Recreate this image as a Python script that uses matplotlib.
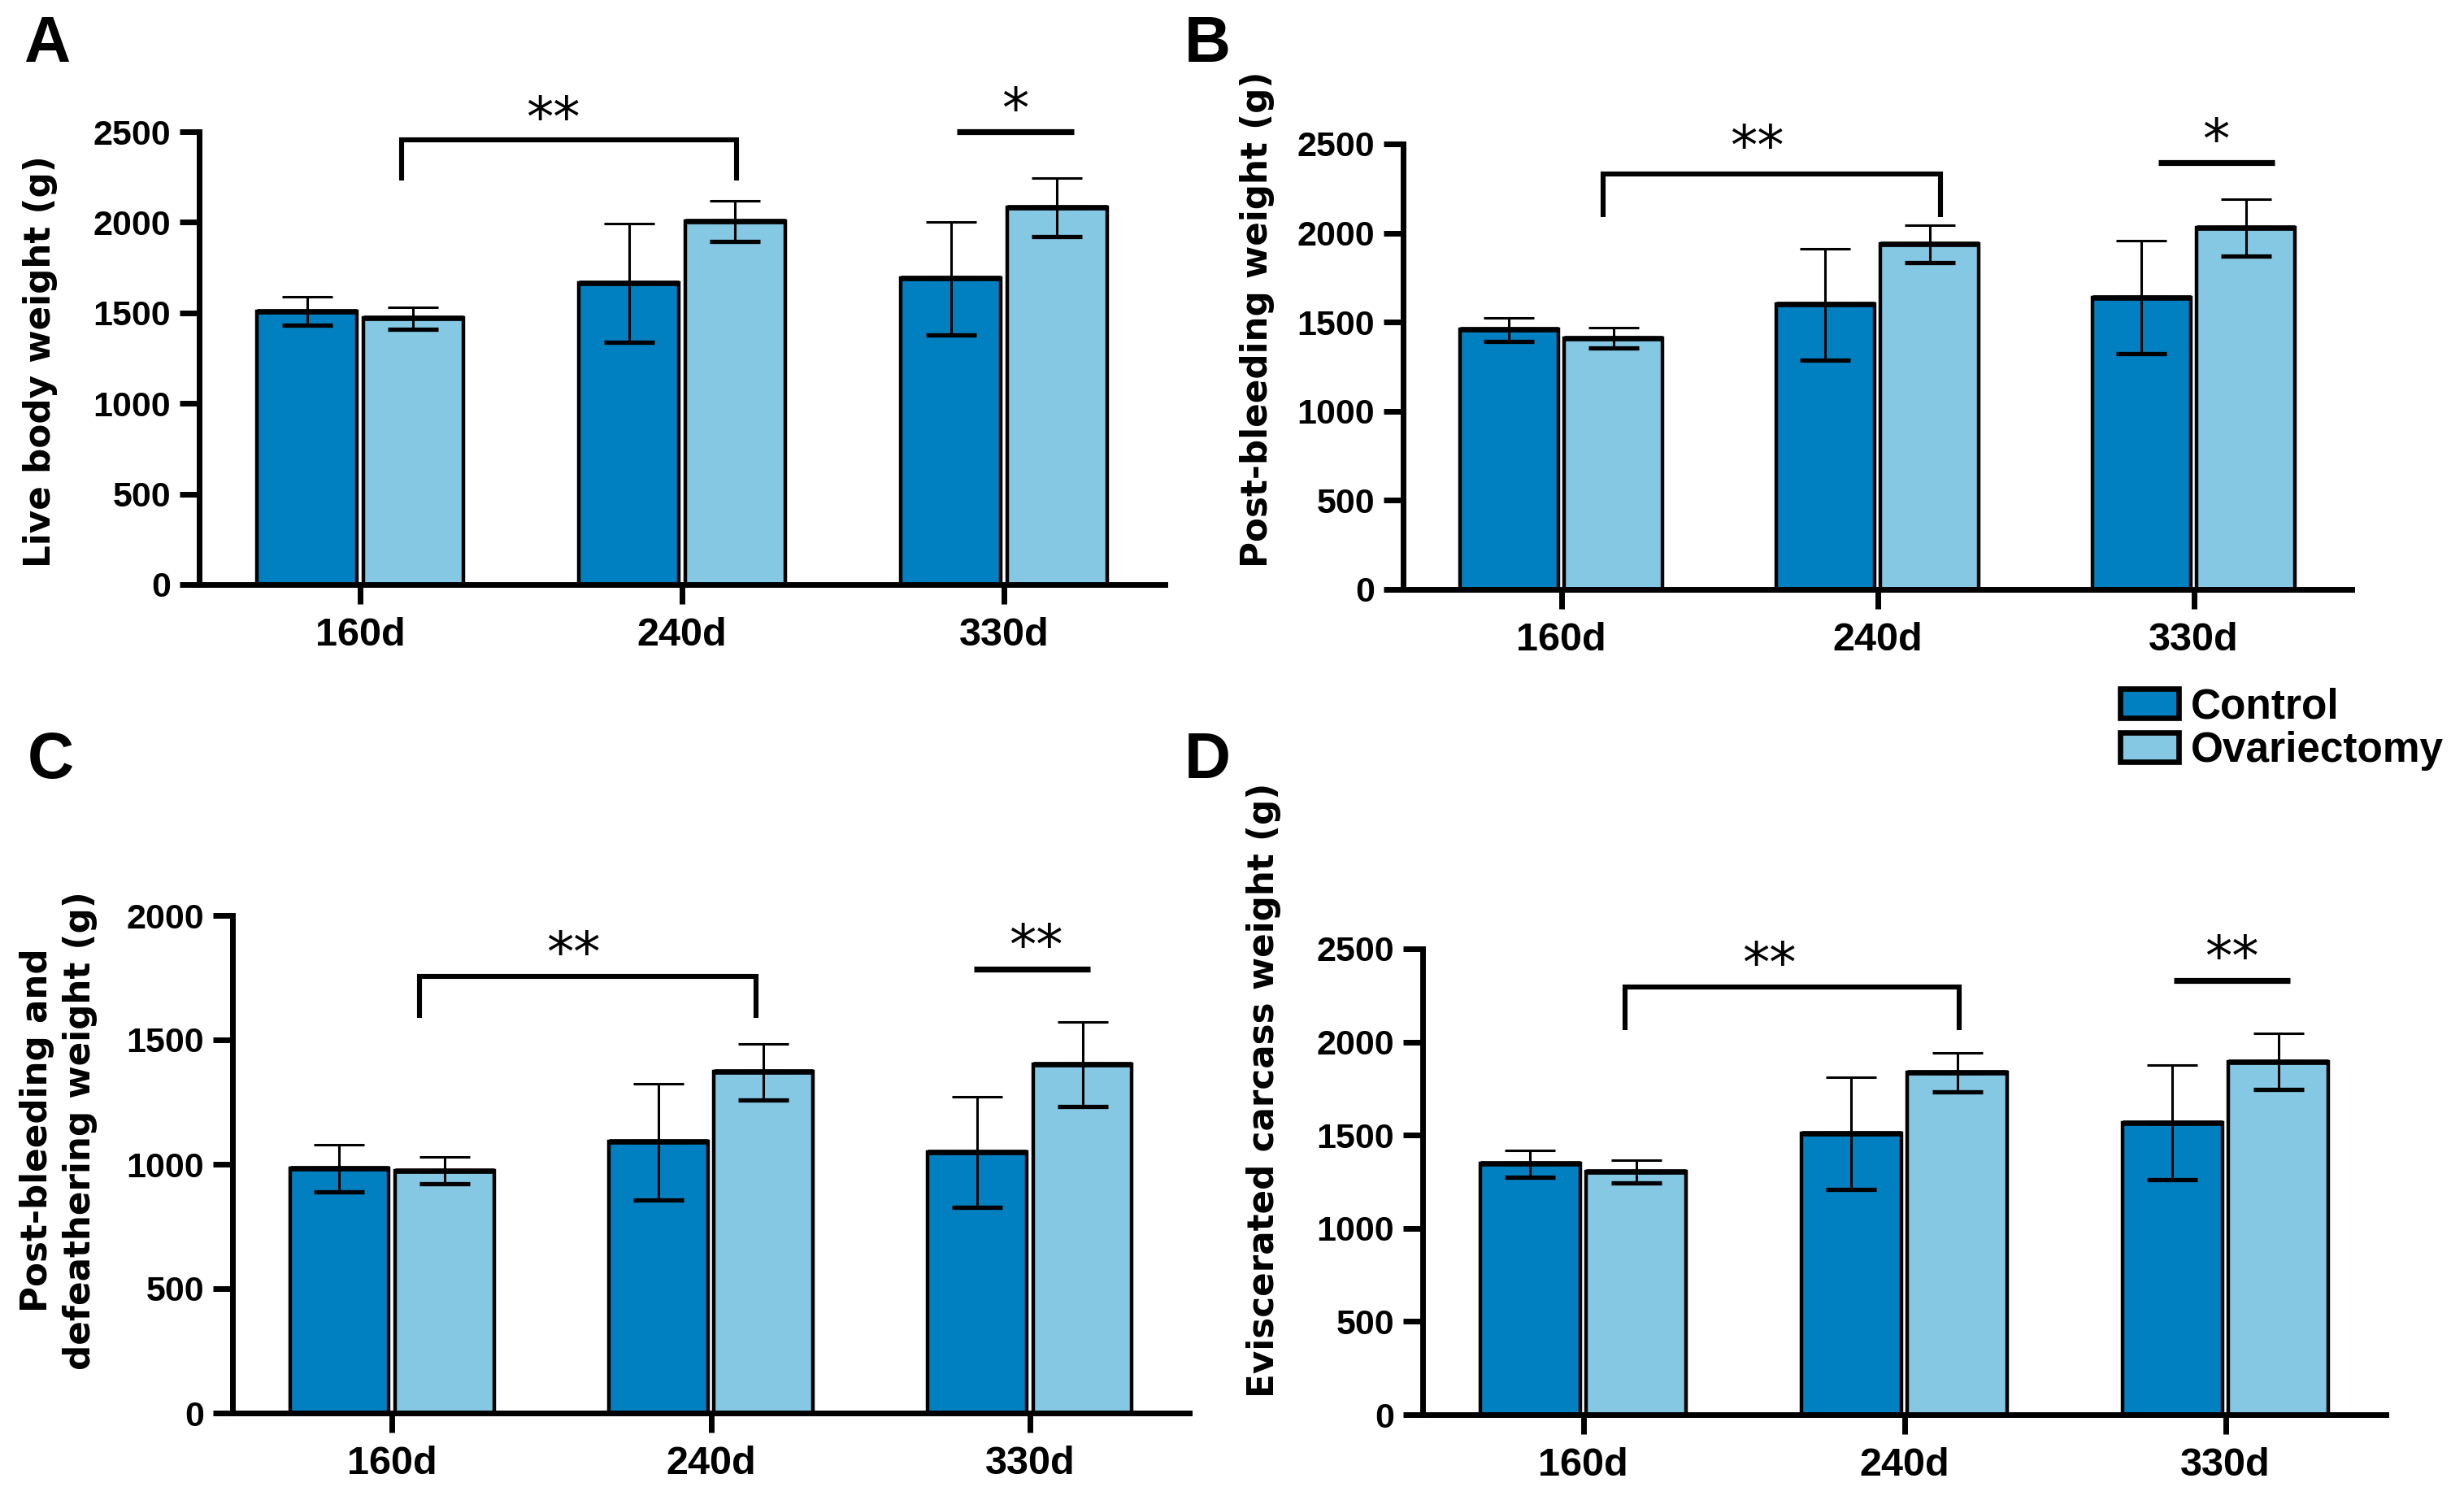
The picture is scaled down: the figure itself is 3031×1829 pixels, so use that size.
import numpy as np
import matplotlib.pyplot as plt
from matplotlib.patches import Patch

# data (mean and SD, grams)
days = ['160d', '240d', '330d']
groups = ['Control', 'Ovariectomy']

live_ctrl = [1510, 1665, 1690]
live_ctrl_sd = [78, 328, 310]
live_ovx = [1470, 2005, 2083]
live_ovx_sd = [62, 112, 163]

bleed_ctrl = [1458, 1600, 1640]
bleed_ctrl_sd = [67, 313, 315]
bleed_ovx = [1410, 1940, 2030]
bleed_ovx_sd = [57, 106, 160]

defeather_ctrl = [985, 1090, 1050]
defeather_ctrl_sd = [95, 234, 222]
defeather_ovx = [975, 1372, 1402]
defeather_ovx_sd = [53, 113, 171]

carcass_ctrl = [1347, 1510, 1568]
carcass_ctrl_sd = [72, 300, 308]
carcass_ovx = [1305, 1835, 1895]
carcass_ovx_sd = [60, 105, 150]

sig_bracket = ['**', '**', '**', '**']
sig_330 = ['*', '*', '**', '**']

c_ctrl = '#0080C0'
c_ovx = '#84C8E4'

W, H = 3031, 1829
fig = plt.figure(figsize=(W / 200, H / 200), dpi=200)


def px_rect(l, r, b, t):
    return [l / W, 1 - b / H, (r - l) / W, (b - t) / H]


def panel(rect, ctrl, ctrl_sd, ovx, ovx_sd, ymax, yticks, br, ln):
    ax = fig.add_axes(rect)
    x = np.arange(len(days))
    w, off = 0.31, 0.165
    for pos, vals, sd, col in [(x - off, ctrl, ctrl_sd, c_ctrl), (x + off, ovx, ovx_sd, c_ovx)]:
        ax.bar(pos, vals, w, color=col, edgecolor='black', linewidth=1.6, zorder=2)
        ax.hlines(vals, pos - w / 2, pos + w / 2, color='black', lw=2.4, zorder=3)
        z = np.zeros(len(vals))
        ax.errorbar(pos, vals, yerr=[z, sd], fmt='none', ecolor='black',
                    elinewidth=1.1, capsize=11, capthick=1.1, zorder=4)
        ax.errorbar(pos, vals, yerr=[sd, z], fmt='none', ecolor='black',
                    elinewidth=1.1, capsize=11, capthick=1.9, zorder=4)
    ax.set_xlim(-0.5, 2.5)
    ax.set_ylim(0, ymax)
    ax.set_yticks(yticks)
    ax.set_xticks(x)
    ax.set_xticklabels(days)
    for s in ['top', 'right']:
        ax.spines[s].set_visible(False)
    for s in ['left', 'bottom']:
        ax.spines[s].set_linewidth(2.5)
    ax.tick_params(width=2.5, length=8.5)
    ax.tick_params(axis='y', pad=4)
    ax.tick_params(axis='x', pad=6)
    for t in ax.get_yticklabels():
        t.set_fontfamily('Liberation Sans')
        t.set_fontweight('bold')
        t.set_fontsize(15.5)
    for t in ax.get_xticklabels():
        t.set_fontfamily('Liberation Sans')
        t.set_fontweight('bold')
        t.set_fontsize(17.5)
    # bracket 160d -> 240d
    bl, brr, btop, bleg, bstar_x, bstar_y, btxt = br
    ax.plot([bl, bl, brr, brr], [bleg, btop, btop, bleg], color='black', lw=2.2,
            clip_on=False, solid_joinstyle='miter', solid_capstyle='butt')
    ax.annotate(btxt, (bstar_x, bstar_y), xytext=(0, -10), textcoords='offset points',
                ha='center', va='baseline', fontsize=24, annotation_clip=False)
    # 330d line
    l0, l1, ly, sx, sy, stxt = ln
    ax.plot([l0, l1], [ly, ly], color='black', lw=2.6, clip_on=False, solid_capstyle='butt')
    ax.annotate(stxt, (sx, sy), xytext=(0, -10), textcoords='offset points',
                ha='center', va='baseline', fontsize=24, annotation_clip=False)
    return ax


axA = panel(px_rect(245, 1433, 719, 162), live_ctrl, live_ctrl_sd, live_ovx, live_ovx_sd,
            2500, [0, 500, 1000, 1500, 2000, 2500],
            (0.128, 1.17, 2456, 2229, 0.60, 2603, sig_bracket[0]),
            (1.854, 2.217, 2500, 2.035, 2652, sig_330[0]))
axB = panel(px_rect(1726, 2893, 725, 177), bleed_ctrl, bleed_ctrl_sd, bleed_ovx, bleed_ovx_sd,
            2500, [0, 500, 1000, 1500, 2000, 2500],
            (0.133, 1.2, 2331, 2090, 0.62, 2512, sig_bracket[1]),
            (1.887, 2.256, 2396, 2.07, 2550, sig_330[1]))
axC = panel(px_rect(286, 1463, 1738, 1126), defeather_ctrl, defeather_ctrl_sd, defeather_ovx,
            defeather_ovx_sd, 2000, [0, 500, 1000, 1500, 2000],
            (0.086, 1.142, 1754, 1588, 0.568, 1867, sig_bracket[2]),
            (1.825, 2.19, 1785, 2.02, 1897, sig_330[2]))
axD = panel(px_rect(1750, 2935, 1740, 1167), carcass_ctrl, carcass_ctrl_sd, carcass_ovx,
            carcass_ovx_sd, 2500, [0, 500, 1000, 1500, 2000, 2500],
            (0.13, 1.17, 2295, 2062, 0.58, 2445, sig_bracket[3]),
            (1.84, 2.2, 2330, 2.02, 2480, sig_330[3]))

# y labels
lab = dict(rotation=90, ha='center', va='bottom', fontsize=15.7, fontweight='bold',
           family='DejaVu Sans')
fig.text(50 / W, 1 - 698 / H, 'Live body weight (g)', **lab)
fig.text(1547 / W, 1 - 698 / H, 'Post-bleeding weight (g)', **lab)
fig.text(72 / W, 1 - 1685 / H, 'Post-bleeding and\ndefeathering weight (g)',
         multialignment='center', linespacing=1.3, **lab)
fig.text(1554 / W, 1 - 1719 / H, 'Eviscerated carcass weight (g)', **lab)

# panel letters
let = dict(fontsize=28.5, fontweight='bold', family='Liberation Sans', va='baseline', ha='left')
fig.text(29 / W, 1 - 76 / H, 'A', **let)
fig.text(1457 / W, 1 - 76 / H, 'B', **let)
fig.text(34 / W, 1 - 957 / H, 'C', **let)
fig.text(1457 / W, 1 - 957 / H, 'D', **let)

handles = [Patch(facecolor=c_ctrl, edgecolor='black', linewidth=2.4),
           Patch(facecolor=c_ovx, edgecolor='black', linewidth=2.4)]
fig.legend(handles, groups, loc='upper left', bbox_to_anchor=(2608 / W, 1 - 845 / H),
           frameon=False, borderpad=0, borderaxespad=0, handlelength=1.4, handleheight=0.72,
           handletextpad=0.3, labelspacing=0.1,
           prop={'family': 'Liberation Sans', 'weight': 'bold', 'size': 18.5})

fig.savefig('out.png', dpi=200)
